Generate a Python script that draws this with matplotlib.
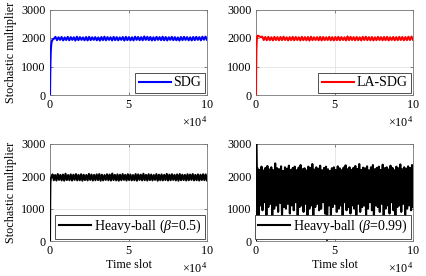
import numpy as np
import matplotlib
matplotlib.use("Agg")
import matplotlib.pyplot as plt

plt.rcParams['font.family'] = ['Liberation Serif', 'DejaVu Serif']
plt.rcParams['mathtext.fontset'] = 'custom'
plt.rcParams['mathtext.rm'] = 'Liberation Serif'
plt.rcParams['mathtext.it'] = 'Liberation Serif:italic'
plt.rcParams['mathtext.bf'] = 'Liberation Serif:bold'

# ---------------- data ----------------
# initial transients (time slot, multiplier)
sdg_ramp_t = [0, 150, 300, 500, 800, 1200, 1800, 2500]
sdg_ramp_v = [0, 700, 1200, 1550, 1780, 1900, 1950, 1975]

la_ramp_t = [0, 100, 250, 500, 800, 1200, 2000, 3000]
la_ramp_v = [0, 900, 1600, 1950, 2060, 2080, 2060, 2030]

hb5_ramp_t = [0, 100, 250, 500, 800]
hb5_ramp_v = [0, 1100, 1800, 1930, 1960]

hb99_ramp_t = [0, 150, 400]
hb99_ramp_v = [0, 3000, 2250]

# noise envelopes (upper / lower) of the steady state
sdg_upper = [2040, 2025, 2035, 2020, 2040, 2030, 2025, 2045, 2030, 2020,
             2035, 2040, 2025, 2030, 2020, 2035, 2045, 2030, 2025, 2040,
             2030, 2020, 2035, 2040, 2030, 2025, 2045, 2035, 2030, 2055,
             2040, 2035, 2025, 2040, 2030, 2045, 2035, 2025, 2040, 2030,
             2020, 2035, 2040, 2030, 2025, 2035, 2040, 2030, 2045, 2050]
sdg_lower = [1925, 1935, 1915, 1930, 1920, 1935, 1910, 1925, 1935, 1920,
             1915, 1925, 1935, 1920, 1910, 1925, 1920, 1935, 1915, 1925,
             1920, 1935, 1910, 1925, 1920, 1915, 1935, 1925, 1920, 1935,
             1925, 1915, 1920, 1935, 1925, 1920, 1915, 1935, 1925, 1920,
             1910, 1925, 1935, 1920, 1915, 1925, 1935, 1920, 1940, 1935]

la_upper = [2050, 2035, 2040, 2025, 2040, 2030, 2035, 2045, 2025, 2030,
            2040, 2035, 2025, 2040, 2030, 2035, 2045, 2025, 2030, 2040,
            2035, 2025, 2040, 2030, 2035, 2040, 2030, 2025, 2055, 2040,
            2030, 2035, 2025, 2040, 2045, 2030, 2035, 2025, 2040, 2030,
            2035, 2040, 2025, 2035, 2030, 2040, 2035, 2030, 2045, 2050]
la_lower = [1930, 1920, 1925, 1915, 1930, 1920, 1925, 1930, 1915, 1925,
            1920, 1930, 1915, 1925, 1920, 1910, 1925, 1930, 1920, 1915,
            1925, 1930, 1920, 1915, 1925, 1920, 1930, 1915, 1925, 1930,
            1920, 1925, 1915, 1930, 1925, 1920, 1915, 1925, 1930, 1920,
            1925, 1915, 1930, 1920, 1925, 1930, 1920, 1925, 1930, 1935]

hb5_upper = [2060, 2040, 2070, 2045, 2055, 2080, 2040, 2060, 2050, 2070,
             2045, 2065, 2050, 2040, 2075, 2055, 2045, 2060, 2070, 2050,
             2040, 2065, 2055, 2085, 2045, 2060, 2050, 2070, 2045, 2065,
             2055, 2040, 2070, 2060, 2050, 2080, 2045, 2065, 2055, 2040,
             2070, 2050, 2060, 2045, 2075, 2055, 2065, 2045, 2060, 2070,
             2050, 2045, 2065, 2055, 2070, 2045, 2060, 2050, 2065, 2060]
hb5_lower = [1880, 1870, 1890, 1875, 1865, 1885, 1880, 1870, 1890, 1875,
             1880, 1865, 1885, 1875, 1890, 1870, 1880, 1885, 1865, 1875,
             1890, 1880, 1870, 1885, 1875, 1865, 1880, 1890, 1870, 1885,
             1875, 1880, 1865, 1890, 1875, 1880, 1870, 1885, 1875, 1890,
             1865, 1880, 1875, 1885, 1870, 1880, 1890, 1875, 1865, 1880,
             1885, 1870, 1880, 1890, 1875, 1880, 1870, 1885, 1880, 1875]

hb99_upper = [2250, 2200, 2300, 2180, 2260, 2320, 2210, 2280, 2190, 2400,
              2250, 2220, 2310, 2170, 2280, 2240, 2330, 2200, 2260, 2300,
              2190, 2270, 2350, 2220, 2250, 2180, 2300, 2260, 2380, 2210,
              2280, 2240, 2330, 2190, 2260, 2300, 2220, 2170, 2250, 2280,
              2200, 2310, 2250, 2190, 2270, 2340, 2220, 2280, 2200, 2260,
              2320, 2230, 2380, 2200, 2270, 2250, 2310, 2190, 2280, 2350,
              2220, 2260, 2300, 2200, 2360, 2250, 2280, 2210, 2330, 2260,
              2190, 2300, 2250, 2370, 2220, 2280, 2240, 2310, 2260, 2350]
hb99_lower = [600, 1100, 950, 1200, 800, 1050, 1150, 700, 1000, 1100,
              900, 1180, 750, 1050, 1000, 1150, 850, 1100, 950, 1200,
              700, 1050, 1100, 900, 1150, 800, 1000, 1100, 650, 1050,
              1150, 950, 1000, 1200, 850, 30, 1100, 750, 1050, 1150,
              900, 1000, 1100, 700, 1200, 950, 1050, 850, 1100, 1000,
              650, 1150, 900, 1050, 1100, 800, 1000, 1200, 950, 700,
              1100, 1050, 900, 1150, 750, 1000, 1100, 850, 1200, 950,
              650, 1050, 1100, 900, 1150, 800, 1000, 1100, 950, 1050]

t_end = 100000
legend_labels = ['SDG', 'LA-SDG', r'Heavy-ball ($\beta$=0.5)', r'Heavy-ball ($\beta$=0.99)']
colors = ['#0000ff', '#ff0000', '#000000', '#000000']
yticks = [0, 1000, 2000, 3000]
xticks = [0, 50000, 100000]


def build(ramp_t, ramp_v, upper, lower):
    n = len(upper)
    z = np.empty(2 * n)
    z[0::2] = upper
    z[1::2] = lower
    tz = np.linspace(ramp_t[-1], t_end, 2 * n + 1)[1:]
    return np.concatenate([ramp_t, tz]), np.concatenate([ramp_v, z])


series = [build(sdg_ramp_t, sdg_ramp_v, sdg_upper, sdg_lower),
          build(la_ramp_t, la_ramp_v, la_upper, la_lower),
          build(hb5_ramp_t, hb5_ramp_v, hb5_upper, hb5_lower),
          build(hb99_ramp_t, hb99_ramp_v, hb99_upper, hb99_lower)]

W, H = 426, 276
fig = plt.figure(figsize=(W / 100, H / 100), dpi=100)

boxes = [(50, 9.5, 207, 95), (256, 9.5, 413, 95),
         (50, 144, 207, 241), (256, 144, 413, 241)]

fs = 8.7
for i, (x0, y0, x1, y1) in enumerate(boxes):
    ax = fig.add_axes([x0 / W, 1 - y1 / H, (x1 - x0) / W, (y1 - y0) / H])
    t, v = series[i]
    ax.plot(t, v, color=colors[i], lw=1.5, label=legend_labels[i], zorder=3)
    ax.set_xlim(0, t_end)
    ax.set_ylim(0, 3000)
    ax.set_xticks(xticks)
    ax.set_yticks(yticks)
    ax.ticklabel_format(axis='x', style='sci', scilimits=(4, 4), useMathText=True)
    ax.xaxis.get_offset_text().set_fontsize(fs)
    ax.grid(True, color='#e3e3e3', lw=0.6)
    ax.set_axisbelow(True)
    for s in ax.spines.values():
        s.set_color('#777777')
        s.set_linewidth(0.6)
    ax.tick_params(direction='in', length=2, width=0.5, color='#555555',
                   labelsize=fs, pad=3, top=True, right=True)
    if i in (0, 2):
        ax.set_ylabel('Stochastic multiplier', fontsize=fs, labelpad=3)
    if i in (2, 3):
        ax.set_xlabel('Time slot', fontsize=fs, labelpad=1)
    leg = ax.legend(loc='lower right', fontsize=10, frameon=True, fancybox=False,
                    framealpha=1, edgecolor='#333333', borderaxespad=0.15,
                    handlelength=2.3, handletextpad=0.2, borderpad=0.25)
    leg.get_frame().set_linewidth(0.6)

fig.savefig('out.png', dpi=100)
